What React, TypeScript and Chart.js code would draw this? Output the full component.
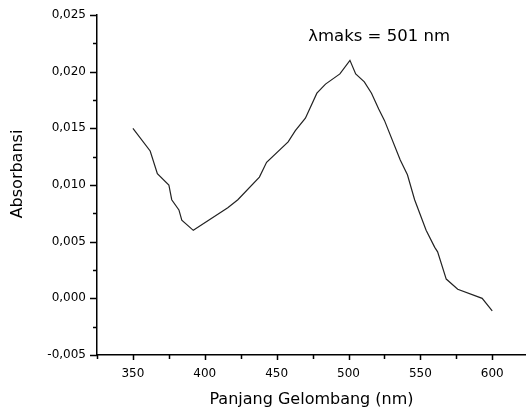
import React, { useEffect, useRef } from "react";
import { Chart, registerables } from "chart.js";

Chart.register(...registerables);

const wavelengths = [350, 362, 367, 375, 377, 382, 384, 392, 416, 423, 438, 443, 458, 463, 470, 478, 484, 494, 501, 505, 511, 516, 521, 525, 536, 541, 546, 554, 560, 562, 568, 576, 593, 600];
const absorbance = [0.015, 0.013, 0.011, 0.01, 0.0087, 0.0078, 0.0069, 0.006, 0.008, 0.0087, 0.0107, 0.012, 0.0138, 0.0148, 0.0159, 0.0181, 0.0189, 0.0198, 0.021, 0.0198, 0.0191, 0.0181, 0.0167, 0.0157, 0.0122, 0.0109, 0.0087, 0.006, 0.0045, 0.0041, 0.0017, 0.0008, 0.0, -0.0011];

const xMajorTicks = [350, 400, 450, 500, 550, 600];
const xMinorTicks = [325, 375, 425, 475, 525, 575];
const yMajorTicks = [-0.005, 0, 0.005, 0.01, 0.015, 0.02, 0.025];
const yMinorTicks = [-0.0025, 0.0025, 0.0075, 0.0125, 0.0175, 0.0225];

const xTitle = "Panjang Gelombang (nm)";
const yTitle = "Absorbansi";
const annotationText = "λmaks = 501 nm";
const annotationX = 472;
const annotationY = 0.0231;

const FONT = "'DejaVu Sans', 'Liberation Sans', Arial, sans-serif";

const isIn = (arr: number[], v: number) => arr.some((a) => Math.abs(a - v) < 1e-9);

const buildTicks = (major: number[], minor: number[]) =>
  [...major, ...minor].sort((a, b) => a - b).map((v) => ({ value: v, major: isIn(major, v) }));

const tickPlugin = {
  id: "customTicks",
  afterDraw(chart: any) {
    const ctx = chart.ctx;
    const { left, bottom, top } = chart.chartArea;
    const xs = chart.scales.x;
    const ys = chart.scales.y;
    ctx.save();
    ctx.strokeStyle = "#000";
    ctx.lineWidth = 1.5;
    ctx.beginPath();
    xs.ticks.forEach((t: any) => {
      const px = Math.round(xs.getPixelForValue(t.value)) + 0.5;
      const len = isIn(xMajorTicks, t.value) ? 5 : 4;
      ctx.moveTo(px, bottom);
      ctx.lineTo(px, bottom + len);
    });
    ys.ticks.forEach((t: any) => {
      const py = Math.round(ys.getPixelForValue(t.value)) + 0.5;
      const len = isIn(yMajorTicks, t.value) ? 7 : 4;
      ctx.moveTo(left, py);
      ctx.lineTo(left - len, py);
    });
    ctx.stroke();
    // annotation
    ctx.fillStyle = "#000";
    ctx.font = `16.5px ${FONT}`;
    ctx.textAlign = "left";
    ctx.textBaseline = "middle";
    ctx.fillText(annotationText, xs.getPixelForValue(annotationX), ys.getPixelForValue(annotationY));
    // y axis title
    ctx.font = `16px ${FONT}`;
    ctx.textAlign = "center";
    ctx.translate(18, (top + bottom) / 2 - 11);
    ctx.rotate(-Math.PI / 2);
    ctx.fillText(yTitle, 0, 0);
    ctx.restore();
  },
};

export default function App() {
  const ref = useRef<HTMLCanvasElement | null>(null);
  useEffect(() => {
    if (!ref.current) return;
    const chart = new Chart(ref.current, {
      type: "line",
      data: {
        datasets: [
          {
            data: wavelengths.map((w, i) => ({ x: w, y: absorbance[i] })),
            borderColor: "#222222",
            borderWidth: 1.2,
            pointRadius: 0,
            fill: false,
            tension: 0,
          },
        ],
      },
      options: {
        animation: false,
        responsive: false,
        events: [],
        layout: { padding: { top: 15, right: 0, left: 0, bottom: 0 } },
        plugins: { legend: { display: false }, tooltip: { enabled: false } },
        scales: {
          x: {
            type: "linear",
            min: 325,
            max: 623.5,
            afterBuildTicks: (s: any) => {
              s.ticks = buildTicks(xMajorTicks, xMinorTicks);
            },
            afterFit: (s: any) => {
              s.height = 56;
              s.paddingLeft = 0;
              s.paddingRight = 0;
            },
            grid: { display: false, drawTicks: false },
            border: { display: true, color: "#000", width: 1.5 },
            ticks: {
              padding: 12,
              color: "#000",
              font: { family: FONT, size: 12 },
              maxRotation: 0,
              autoSkip: false,
              callback: (v: any) => (isIn(xMajorTicks, Number(v)) ? String(v) : ""),
            },
            title: {
              display: true,
              text: xTitle,
              color: "#000",
              font: { family: FONT, size: 16 },
              padding: { top: 0, bottom: 2 },
            },
          },
          y: {
            type: "linear",
            min: -0.005,
            max: 0.025,
            afterBuildTicks: (s: any) => {
              s.ticks = buildTicks(yMajorTicks, yMinorTicks);
            },
            afterFit: (s: any) => {
              s.width = 97;
              s.paddingTop = 0;
              s.paddingBottom = 0;
            },
            grid: { display: false, drawTicks: false },
            border: { display: true, color: "#000", width: 1.5 },
            ticks: {
              padding: 11,
              color: "#000",
              font: { family: FONT, size: 12 },
              autoSkip: false,
              callback: (v: any) =>
                isIn(yMajorTicks, Number(v)) ? Number(v).toFixed(3).replace(".", ",") : "",
            },
            title: { display: false },
          },
        },
      },
      plugins: [tickPlugin],
    });
    return () => chart.destroy();
  }, []);
  return (
    <div style={{ position: "fixed", left: 0, top: 0, width: 526, height: 411, background: "#fff" }}>
      <canvas ref={ref} width={526} height={411} style={{ display: "block" }} />
    </div>
  );
}
